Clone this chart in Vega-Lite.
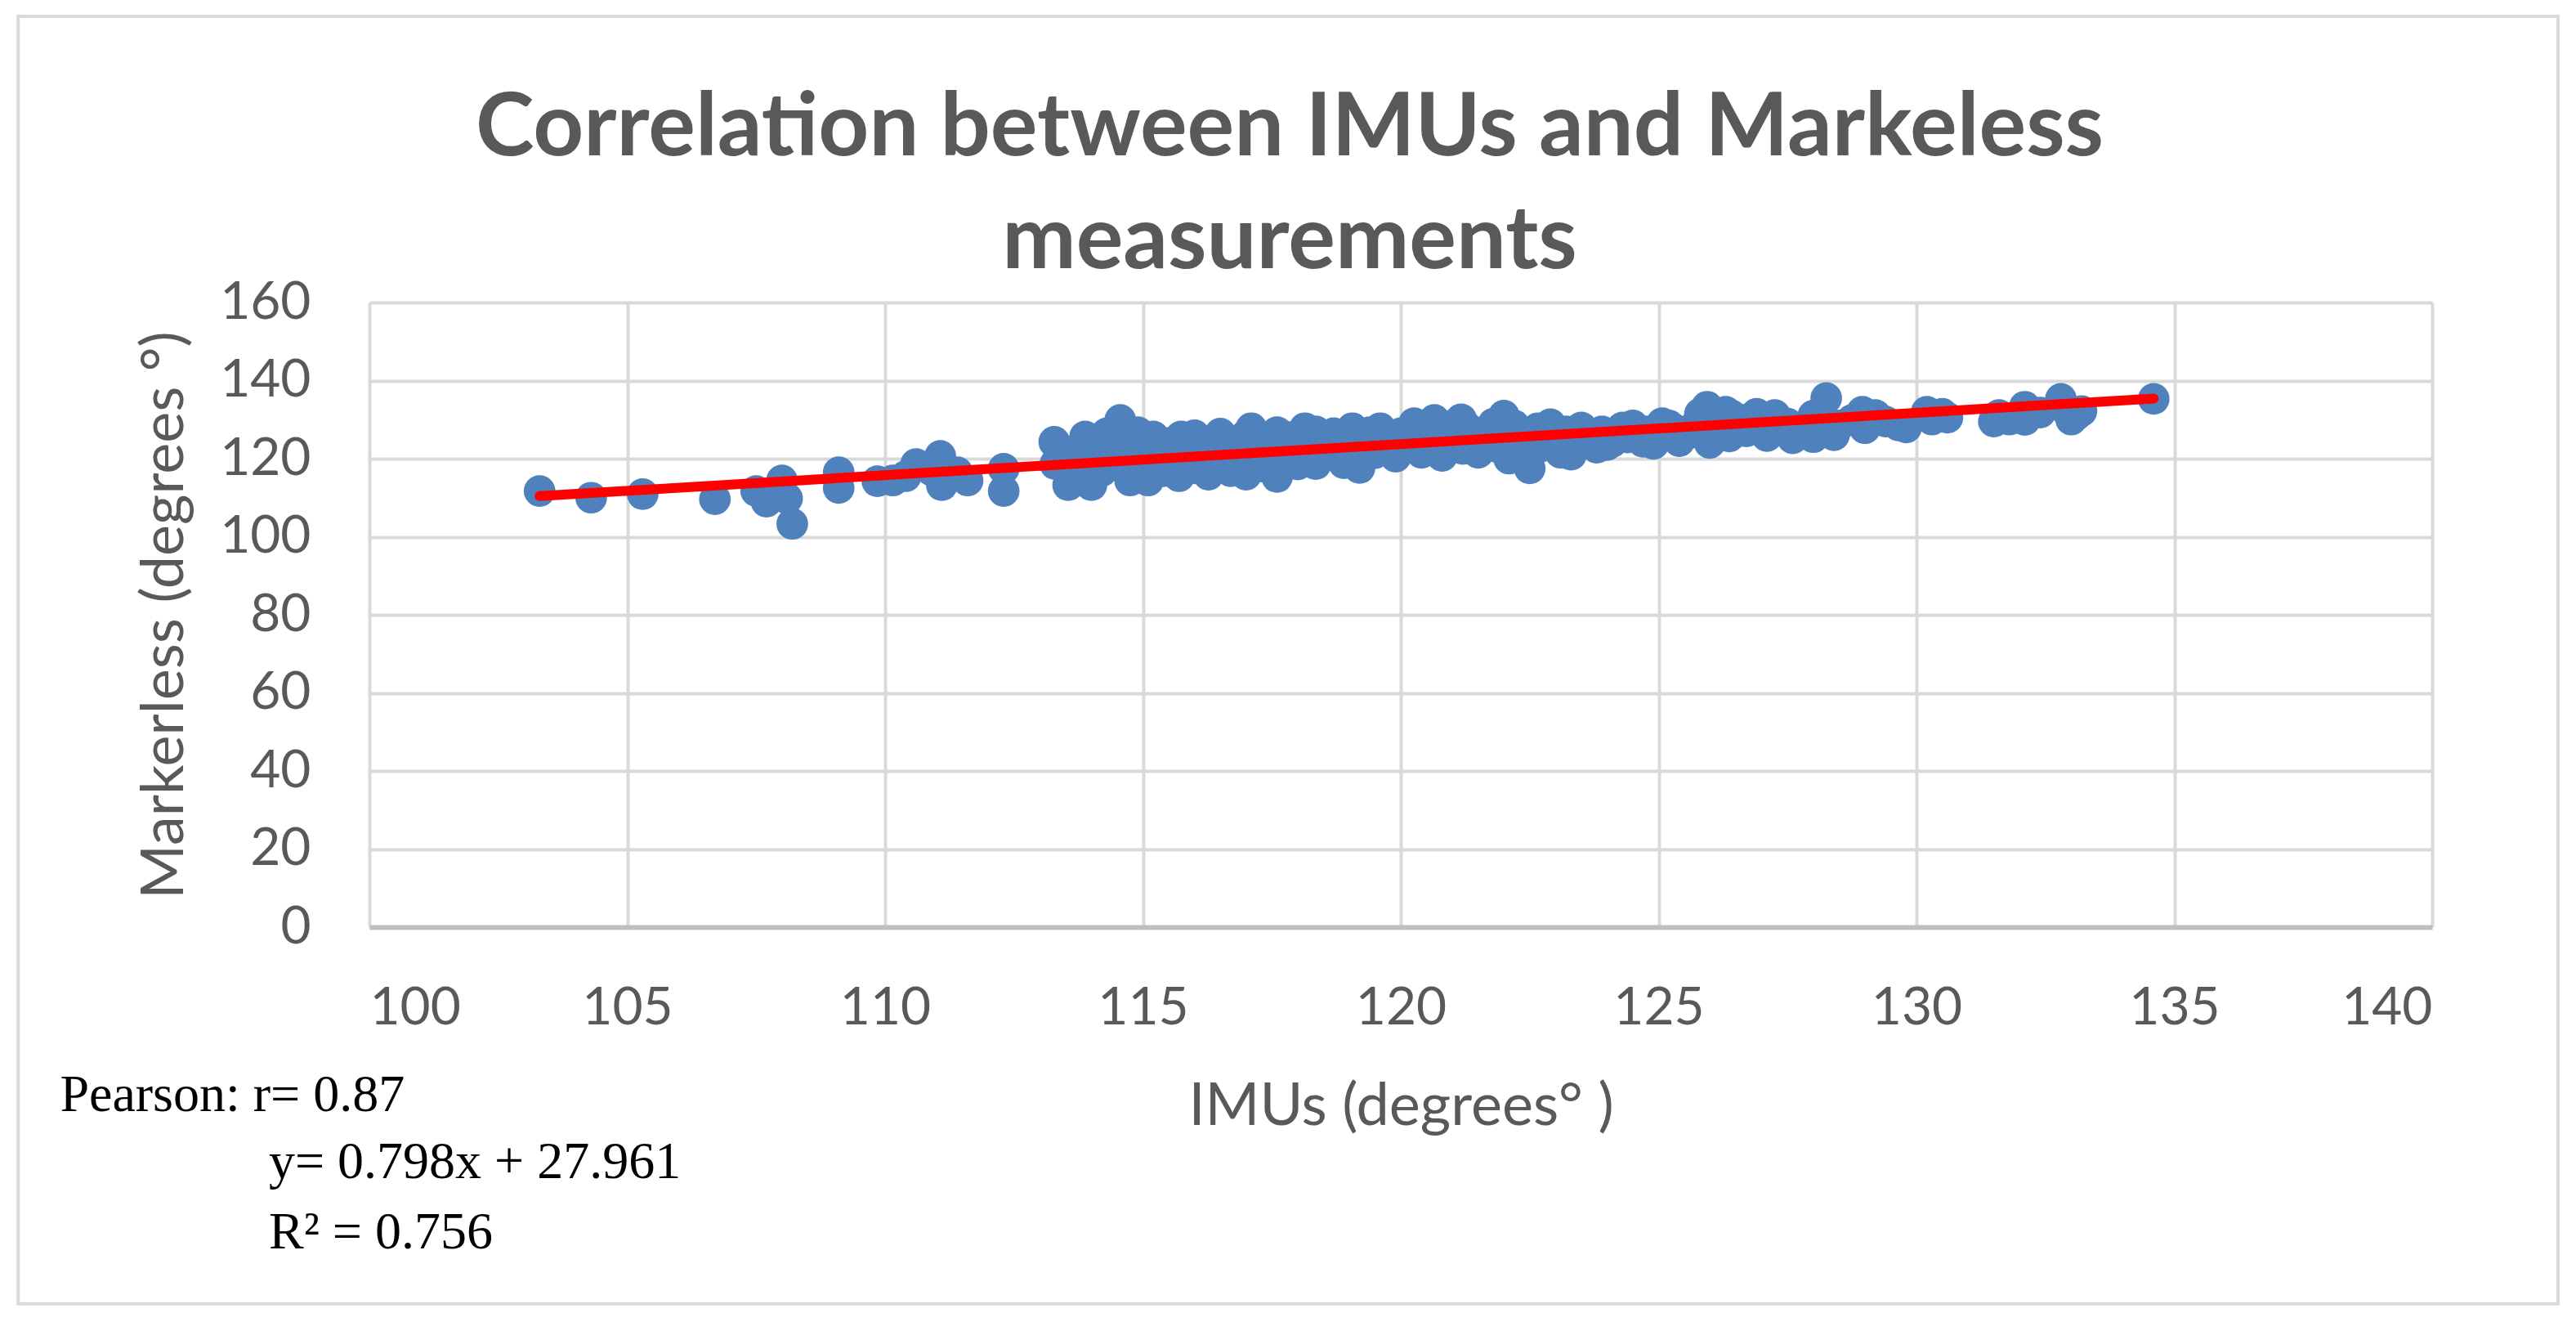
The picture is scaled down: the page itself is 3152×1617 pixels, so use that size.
{
  "$schema": "https://vega.github.io/schema/vega-lite/v6.json",
  "autosize": {"type": "none"},
  "width": 2524,
  "height": 764,
  "padding": {"left": 452, "top": 370, "right": 176, "bottom": 483},
  "background": "white",
  "title": {
    "text": ["Correlation between IMUs and Markeless", "measurements"],
    "font": "Lato",
    "fontSize": 108,
    "fontWeight": "bold",
    "color": "#595959",
    "lineHeight": 138,
    "anchor": "middle",
    "frame": "group",
    "dx": -136,
    "offset": -333
  },
  "datasets": {
    "points": [
      {"imu": 103.3, "markerless": 111.7},
      {"imu": 104.3, "markerless": 110.0},
      {"imu": 105.3, "markerless": 110.9},
      {"imu": 106.7, "markerless": 109.6},
      {"imu": 107.5, "markerless": 111.7},
      {"imu": 107.7, "markerless": 109.0},
      {"imu": 108.0, "markerless": 114.4},
      {"imu": 108.1, "markerless": 109.8},
      {"imu": 108.2, "markerless": 103.3},
      {"imu": 109.1, "markerless": 116.5},
      {"imu": 109.1, "markerless": 112.5},
      {"imu": 109.85, "markerless": 114.2},
      {"imu": 110.15, "markerless": 114.4},
      {"imu": 110.6, "markerless": 118.6},
      {"imu": 110.4, "markerless": 115.5},
      {"imu": 111.07, "markerless": 120.7},
      {"imu": 111.1, "markerless": 113.2},
      {"imu": 111.4, "markerless": 116.5},
      {"imu": 111.6, "markerless": 114.4},
      {"imu": 110.9, "markerless": 117.0},
      {"imu": 112.3, "markerless": 117.4},
      {"imu": 112.3, "markerless": 111.7},
      {"imu": 113.28, "markerless": 124.3},
      {"imu": 113.3, "markerless": 118.6},
      {"imu": 113.55, "markerless": 113.2},
      {"imu": 113.88, "markerless": 125.7},
      {"imu": 114.0, "markerless": 113.2},
      {"imu": 114.56, "markerless": 129.9},
      {"imu": 114.75, "markerless": 114.4},
      {"imu": 115.1, "markerless": 114.4},
      {"imu": 115.2, "markerless": 125.7},
      {"imu": 115.74, "markerless": 125.7},
      {"imu": 115.68, "markerless": 117.4},
      {"imu": 116.27, "markerless": 115.9},
      {"imu": 116.5, "markerless": 126.4},
      {"imu": 117.1, "markerless": 127.8},
      {"imu": 117.0, "markerless": 115.9},
      {"imu": 117.6, "markerless": 115.3},
      {"imu": 118.14, "markerless": 127.8},
      {"imu": 113.5, "markerless": 121.0},
      {"imu": 113.7, "markerless": 117.0},
      {"imu": 113.9, "markerless": 120.5},
      {"imu": 114.1, "markerless": 122.8},
      {"imu": 114.2, "markerless": 116.8},
      {"imu": 114.4, "markerless": 119.5},
      {"imu": 114.5, "markerless": 124.5},
      {"imu": 114.7, "markerless": 121.2},
      {"imu": 114.9, "markerless": 117.8},
      {"imu": 115.0, "markerless": 123.0},
      {"imu": 115.3, "markerless": 119.8},
      {"imu": 115.4, "markerless": 116.8},
      {"imu": 115.6, "markerless": 121.8},
      {"imu": 115.8, "markerless": 123.8},
      {"imu": 115.9, "markerless": 119.0},
      {"imu": 116.1, "markerless": 121.0},
      {"imu": 116.3, "markerless": 124.5},
      {"imu": 116.4, "markerless": 118.2},
      {"imu": 116.6, "markerless": 122.3},
      {"imu": 116.8, "markerless": 119.6},
      {"imu": 116.9, "markerless": 125.0},
      {"imu": 117.2, "markerless": 121.0},
      {"imu": 117.3, "markerless": 118.0},
      {"imu": 117.5, "markerless": 123.8},
      {"imu": 117.7, "markerless": 120.2},
      {"imu": 117.8, "markerless": 125.6},
      {"imu": 118.0, "markerless": 118.5},
      {"imu": 118.2, "markerless": 122.0},
      {"imu": 118.35, "markerless": 127.0},
      {"imu": 119.06, "markerless": 127.8},
      {"imu": 119.6, "markerless": 127.8},
      {"imu": 120.26, "markerless": 129.1},
      {"imu": 120.65, "markerless": 129.9},
      {"imu": 121.17, "markerless": 130.1},
      {"imu": 122.0, "markerless": 131.0},
      {"imu": 122.66, "markerless": 127.8},
      {"imu": 123.2, "markerless": 127.0},
      {"imu": 123.9, "markerless": 127.0},
      {"imu": 124.5, "markerless": 128.5},
      {"imu": 125.07, "markerless": 129.1},
      {"imu": 125.94, "markerless": 133.3},
      {"imu": 126.3, "markerless": 132.0},
      {"imu": 118.35, "markerless": 118.6},
      {"imu": 119.2, "markerless": 117.6},
      {"imu": 120.1, "markerless": 122.8},
      {"imu": 120.8, "markerless": 120.7},
      {"imu": 121.5, "markerless": 121.5},
      {"imu": 122.5, "markerless": 117.5},
      {"imu": 123.1, "markerless": 121.5},
      {"imu": 124.1, "markerless": 124.3},
      {"imu": 124.7, "markerless": 124.3},
      {"imu": 125.99, "markerless": 124.0},
      {"imu": 126.37, "markerless": 125.7},
      {"imu": 118.6, "markerless": 124.0},
      {"imu": 118.8, "markerless": 120.8},
      {"imu": 119.0, "markerless": 123.0},
      {"imu": 119.3, "markerless": 125.2},
      {"imu": 119.5, "markerless": 121.4},
      {"imu": 119.8, "markerless": 124.0},
      {"imu": 120.0, "markerless": 126.5},
      {"imu": 120.3, "markerless": 125.0},
      {"imu": 120.5, "markerless": 123.0},
      {"imu": 120.9, "markerless": 126.8},
      {"imu": 121.0, "markerless": 124.5},
      {"imu": 121.3, "markerless": 127.8},
      {"imu": 121.5, "markerless": 124.0},
      {"imu": 121.7, "markerless": 126.2},
      {"imu": 121.9, "markerless": 122.8},
      {"imu": 122.2, "markerless": 128.5},
      {"imu": 122.3, "markerless": 124.5},
      {"imu": 122.5, "markerless": 121.5},
      {"imu": 122.8, "markerless": 125.2},
      {"imu": 123.0, "markerless": 123.5},
      {"imu": 123.4, "markerless": 126.0},
      {"imu": 123.6, "markerless": 124.0},
      {"imu": 123.8, "markerless": 122.8},
      {"imu": 124.2, "markerless": 126.3},
      {"imu": 124.4, "markerless": 125.4},
      {"imu": 124.8, "markerless": 127.0},
      {"imu": 125.0, "markerless": 125.5},
      {"imu": 125.3, "markerless": 127.5},
      {"imu": 125.5, "markerless": 126.0},
      {"imu": 125.7, "markerless": 128.3},
      {"imu": 125.9, "markerless": 130.5},
      {"imu": 126.1, "markerless": 127.0},
      {"imu": 126.4, "markerless": 131.2},
      {"imu": 126.45, "markerless": 126.5},
      {"imu": 127.25, "markerless": 131.2},
      {"imu": 126.8, "markerless": 128.5},
      {"imu": 127.7, "markerless": 127.0},
      {"imu": 128.2, "markerless": 127.0},
      {"imu": 128.25, "markerless": 135.5},
      {"imu": 128.95, "markerless": 132.0},
      {"imu": 128.75, "markerless": 129.9},
      {"imu": 129.2, "markerless": 131.2},
      {"imu": 129.65, "markerless": 128.5},
      {"imu": 130.2, "markerless": 132.0},
      {"imu": 130.6, "markerless": 130.5},
      {"imu": 131.6, "markerless": 131.2},
      {"imu": 132.1, "markerless": 129.9},
      {"imu": 132.1, "markerless": 133.3},
      {"imu": 132.8, "markerless": 135.3},
      {"imu": 133.1, "markerless": 131.2},
      {"imu": 134.6, "markerless": 135.3},
      {"imu": 127.0, "markerless": 130.0},
      {"imu": 127.5, "markerless": 129.0},
      {"imu": 127.9, "markerless": 128.0},
      {"imu": 128.0, "markerless": 131.0},
      {"imu": 128.5, "markerless": 128.5},
      {"imu": 129.0, "markerless": 130.5},
      {"imu": 129.4, "markerless": 129.5},
      {"imu": 130.3, "markerless": 130.0},
      {"imu": 130.5, "markerless": 131.5},
      {"imu": 131.8, "markerless": 130.0},
      {"imu": 132.4, "markerless": 131.8},
      {"imu": 132.9, "markerless": 132.5},
      {"imu": 133.2, "markerless": 132.2},
      {"imu": 127.1, "markerless": 125.8},
      {"imu": 127.6, "markerless": 125.2},
      {"imu": 128.0, "markerless": 125.5},
      {"imu": 128.4, "markerless": 126.0},
      {"imu": 129.0, "markerless": 127.8},
      {"imu": 129.8, "markerless": 128.0},
      {"imu": 131.5, "markerless": 129.5},
      {"imu": 133.0, "markerless": 130.0},
      {"imu": 113.4, "markerless": 122.5},
      {"imu": 113.6, "markerless": 119.0},
      {"imu": 113.8, "markerless": 123.0},
      {"imu": 114.0, "markerless": 118.5},
      {"imu": 114.3, "markerless": 121.0},
      {"imu": 114.3, "markerless": 126.5},
      {"imu": 114.6, "markerless": 118.0},
      {"imu": 114.8, "markerless": 123.5},
      {"imu": 114.9, "markerless": 126.8},
      {"imu": 115.1, "markerless": 121.5},
      {"imu": 115.2, "markerless": 117.0},
      {"imu": 115.5, "markerless": 124.0},
      {"imu": 115.5, "markerless": 119.0},
      {"imu": 115.7, "markerless": 115.5},
      {"imu": 116.0, "markerless": 126.0},
      {"imu": 116.0, "markerless": 117.5},
      {"imu": 116.2, "markerless": 123.0},
      {"imu": 116.5, "markerless": 120.0},
      {"imu": 116.7, "markerless": 124.0},
      {"imu": 116.7, "markerless": 116.8},
      {"imu": 117.0, "markerless": 122.5},
      {"imu": 117.0, "markerless": 126.0},
      {"imu": 117.3, "markerless": 124.5},
      {"imu": 117.4, "markerless": 120.0},
      {"imu": 117.6, "markerless": 126.8},
      {"imu": 117.9, "markerless": 123.5},
      {"imu": 118.0, "markerless": 120.5},
      {"imu": 118.3, "markerless": 124.8},
      {"imu": 118.5, "markerless": 121.5},
      {"imu": 118.7, "markerless": 126.5},
      {"imu": 118.9, "markerless": 118.8},
      {"imu": 119.2, "markerless": 124.0},
      {"imu": 119.4, "markerless": 126.8},
      {"imu": 119.7, "markerless": 122.5},
      {"imu": 119.9, "markerless": 120.5},
      {"imu": 120.2, "markerless": 127.5},
      {"imu": 120.4, "markerless": 121.5},
      {"imu": 120.7, "markerless": 125.0},
      {"imu": 121.0, "markerless": 128.5},
      {"imu": 121.2, "markerless": 122.5},
      {"imu": 121.4, "markerless": 125.5},
      {"imu": 121.8, "markerless": 129.0},
      {"imu": 122.0, "markerless": 123.8},
      {"imu": 122.1, "markerless": 120.0},
      {"imu": 122.4, "markerless": 126.5},
      {"imu": 122.7, "markerless": 123.0},
      {"imu": 122.9, "markerless": 128.8},
      {"imu": 123.2, "markerless": 124.5},
      {"imu": 123.3, "markerless": 121.0},
      {"imu": 123.5, "markerless": 128.0},
      {"imu": 123.7, "markerless": 125.5},
      {"imu": 124.0, "markerless": 123.5},
      {"imu": 124.3, "markerless": 128.0},
      {"imu": 124.6, "markerless": 125.8},
      {"imu": 124.9, "markerless": 123.8},
      {"imu": 125.2, "markerless": 128.5},
      {"imu": 125.4, "markerless": 124.5},
      {"imu": 125.6, "markerless": 126.5},
      {"imu": 125.8, "markerless": 131.5},
      {"imu": 126.2, "markerless": 129.5},
      {"imu": 126.6, "markerless": 130.0},
      {"imu": 126.7, "markerless": 127.0},
      {"imu": 126.9, "markerless": 131.5}
    ],
    "trend": [
      {"imu": 103.3, "markerless": 110.4},
      {"imu": 134.6, "markerless": 135.4}
    ]
  },
  "layer": [
    {
      "data": {"values": [{}]},
      "mark": {"type": "rect", "filled": false, "stroke": "#D9D9D9", "strokeWidth": 4, "clip": false},
      "encoding": {
        "x": {"datum": 93.19, "type": "quantitative", "scale": {"domain": [100, 140], "nice": false, "zero": false}},
        "x2": {"datum": 142.44},
        "y": {"datum": 233.3, "type": "quantitative", "scale": {"domain": [0, 160], "nice": false, "zero": false}},
        "y2": {"datum": -96.5}
      }
    },
    {
      "data": {"name": "points"},
      "mark": {"type": "circle", "size": 1500, "color": "#4F81BD", "opacity": 1},
      "encoding": {
        "x": {
          "field": "imu",
          "type": "quantitative",
          "title": "IMUs (degrees° )",
          "scale": {"domain": [100, 140], "nice": false, "zero": false},
          "axis": {"values": [100, 105, 110, 115, 120, 125, 130, 135, 140], "format": "d", "domain": true, "domainColor": "#BFBFBF", "domainWidth": 6, "labelPadding": 67, "titlePadding": 53}
        },
        "y": {
          "field": "markerless",
          "type": "quantitative",
          "title": "Markerless (degrees °)",
          "scale": {"domain": [0, 160], "nice": false, "zero": false},
          "axis": {"values": [0, 20, 40, 60, 80, 100, 120, 140, 160], "format": "d", "domain": false, "labelPadding": 72, "titlePadding": 30}
        }
      }
    },
    {
      "data": {"name": "trend"},
      "mark": {"type": "line", "color": "#FF0000", "strokeWidth": 12, "strokeCap": "round"},
      "encoding": {
        "x": {"field": "imu", "type": "quantitative", "title": "IMUs (degrees° )", "scale": {"domain": [100, 140], "nice": false, "zero": false}},
        "y": {"field": "markerless", "type": "quantitative", "title": "Markerless (degrees °)", "scale": {"domain": [0, 160], "nice": false, "zero": false}}
      }
    },
    {
      "data": {"values": [{}]},
      "mark": {"type": "text", "text": "Pearson: r= 0.87", "align": "left", "baseline": "alphabetic", "font": "Liberation Serif", "fontSize": 64, "color": "black", "clip": false},
      "encoding": {
        "x": {"datum": 94.0, "type": "quantitative", "scale": {"domain": [100, 140], "nice": false, "zero": false}},
        "y": {"datum": -47.1, "type": "quantitative", "scale": {"domain": [0, 160], "nice": false, "zero": false}}
      }
    },
    {
      "data": {"values": [{}]},
      "mark": {"type": "text", "text": "y= 0.798x + 27.961", "align": "left", "baseline": "alphabetic", "font": "Liberation Serif", "fontSize": 64, "color": "black", "clip": false},
      "encoding": {
        "x": {"datum": 98.05, "type": "quantitative", "scale": {"domain": [100, 140], "nice": false, "zero": false}},
        "y": {"datum": -64.3, "type": "quantitative", "scale": {"domain": [0, 160], "nice": false, "zero": false}}
      }
    },
    {
      "data": {"values": [{}]},
      "mark": {"type": "text", "text": "R² = 0.756", "align": "left", "baseline": "alphabetic", "font": "Liberation Serif", "fontSize": 64, "color": "black", "clip": false},
      "encoding": {
        "x": {"datum": 98.05, "type": "quantitative", "scale": {"domain": [100, 140], "nice": false, "zero": false}},
        "y": {"datum": -82.3, "type": "quantitative", "scale": {"domain": [0, 160], "nice": false, "zero": false}}
      }
    }
  ],
  "config": {
    "view": {"stroke": null},
    "axis": {
      "labelFont": "Lato",
      "labelFontSize": 64,
      "labelColor": "#595959",
      "titleFont": "Lato",
      "titleFontSize": 72,
      "titleFontWeight": "normal",
      "titleColor": "#595959",
      "ticks": false,
      "tickSize": 0,
      "grid": true,
      "gridColor": "#D9D9D9",
      "gridWidth": 4
    }
  }
}
